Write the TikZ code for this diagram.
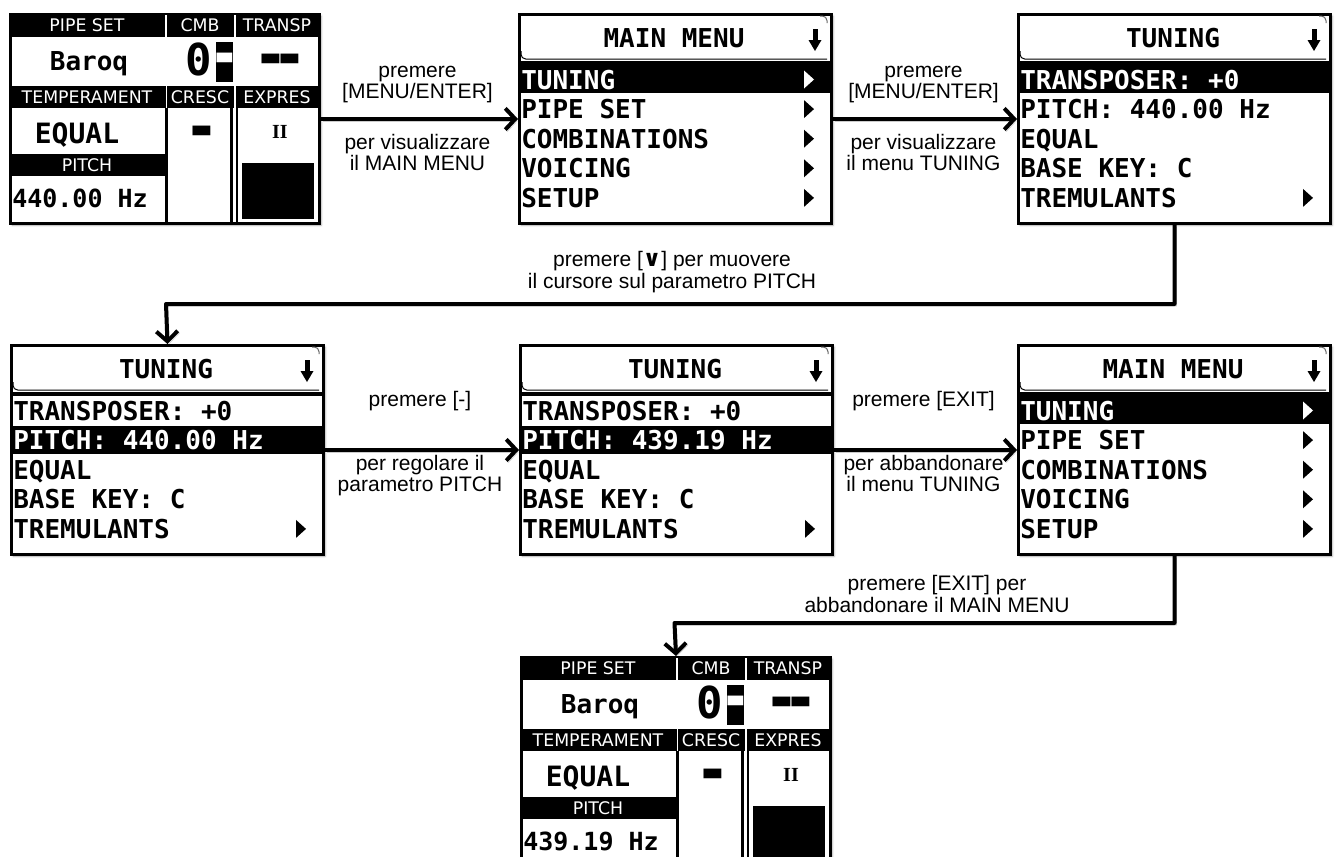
\documentclass[tikz,border=0pt]{standalone}
\usepackage{fontspec}
\setmainfont{Liberation Sans}
\newfontfamily\lcdmono{DejaVu Sans Mono}
\newfontfamily\lcdsans{DejaVu Sans}
\newfontfamily\lcdserif{Liberation Serif}
\usetikzlibrary{arrows.meta,shadows.blur}

\tikzset{
  lcdbox/.style={draw, line width=2.25pt, fill=white, anchor=north west, inner sep=0pt,
    blur shadow={shadow xshift=1.2pt, shadow yshift=-1.2pt, shadow blur radius=1.6pt, shadow opacity=35}},
  menubox/.style={lcdbox, minimum width=234pt, minimum height=156.75pt},
  dispbox/.style={lcdbox, minimum width=231.75pt, minimum height=156.75pt},
  mtext/.style={font=\lcdmono\bfseries\fontsize{19.5pt}{20pt}\selectfont, inner sep=0pt},
  wlab/.style={font=\lcdsans\fontsize{13pt}{14pt}\selectfont, text=white, inner sep=0pt, anchor=base},
  bigtext/.style={font=\lcdmono\bfseries\fontsize{#1}{#1}\selectfont, inner sep=0pt, anchor=base},
  lbl/.style={font=\fontsize{15.75pt}{18pt}\selectfont, inner sep=0pt, anchor=base},
  conn/.style={line width=3pt, line join=round, -{Straight Barb[length=7.5pt,width=16pt]},
    preaction={draw=black!45, opacity=0.45, transform canvas={shift={(1.5pt,-1.5pt)}}}},
}

% header of a menu screen: #1 node, #2 title
\newcommand\menuhead[2]{%
  \begin{scope}[shift={(#1.north west)}]
    \draw[line width=0.75pt, rounded corners=3.5pt] (3,38) -- (3,46) -- (309,46);
    \draw[line width=0.75pt, black!60, rounded corners=3.5pt] (302,3) -- (309,3) -- (309,10);
    \fill (0,47.5) rectangle (312,51.5);
    \node[mtext, anchor=base] (#1title) at (156,34.5) {#2};
    \fill (294.5,16) rectangle (299.5,28);
    \fill (290.5,27) -- (303.5,27) -- (297,38) -- cycle;
  \end{scope}}

% one row of a menu: #1 node, #2 index, #3 text, #4 h = highlighted, #5 a = arrow
\newcommand\menurow[5]{%
  \begin{scope}[shift={(#1.north west)}]
    \pgfmathsetmacro\rc{66.5+29.6*#2}%
    \pgfmathsetmacro\rb{\rc+9.5}%
    \ifx h#4\relax
      \fill (0,\rc-14.5) rectangle (312,\rc+13.5);
      \def\tc{white}%
    \else
      \def\tc{black}%
    \fi
    \node[mtext, text=\tc, anchor=base west] (#1r#2) at (3,\rb) {#3};
    \ifx a#5\relax
      \fill[\tc] (286,\rc-9) -- (296,\rc) -- (286,\rc+9) -- cycle;
    \fi
  \end{scope}}

% main display: #1 node, #2 pitch value
\newcommand\lcddisp[2]{%
  \begin{scope}[shift={(#1.north west)}]
    \fill (0,0) rectangle (309,24);
    \fill (0,73) rectangle (309,95);
    \fill (0,141) rectangle (157,163);
    \draw[white, line width=1pt] (157,2) -- (157,24) (226,2) -- (226,24)
                                 (157.5,73) -- (157.5,95) (226,73) -- (226,95);
    \draw[line width=1.6pt] (157.5,95) -- (157.5,209) (222.5,95) -- (222.5,209) (228,95) -- (228,209);
    \fill (233,150) rectangle (305,206);
    \node[wlab] (#1h1) at (78,18.5) {PIPE SET};
    \node[wlab] (#1h2) at (191,18.5) {CMB};
    \node[wlab] (#1h3) at (268,18.5) {TRANSP};
    \node[wlab] (#1h4) at (78,90.5) {TEMPERAMENT};
    \node[wlab] (#1h5) at (191,90.5) {CRESC};
    \node[wlab] (#1h6) at (268,90.5) {EXPRES};
    \node[wlab] (#1h7) at (78,158.5) {PITCH};
    \node[bigtext=19.5pt] (#1v1) at (80,57) {Baroq};
    \node[bigtext=33pt] (#1v2) at (189.5,62) {0};
    \fill (207,29) rectangle (224,69);
    \node[bigtext=25.5pt, text=white] (#1v3) at (215.5,64.5) {\scalebox{1.5}[2]{-}};
    \node[bigtext=25.5pt] (#1v4) at (271,65) {\scalebox{1.7}[2]{-\kern-0.27em-}};
    \node[bigtext=21pt] (#1v5) at (68,130) {EQUAL};
    \node[bigtext=25.5pt] (#1v6) at (193,137.5) {\scalebox{1.7}[2]{-}};
    \node[font=\lcdserif\bfseries\fontsize{15pt}{15pt}\selectfont, inner sep=0pt, anchor=base] (#1v7) at (271,125) {II};
    \node[bigtext=18.75pt, anchor=base west] (#1v8) at (3,194) {#2};
  \end{scope}}

\begin{document}
\begin{tikzpicture}[x=0.75pt, y=-0.75pt]
\useasboundingbox (0,0) rectangle (1336,857);

% screens
\node[dispbox] (d1) at (9,13) {};
\node[menubox] (m1) at (518,13) {};
\node[menubox] (t1) at (1017,13) {};
\node[menubox] (t2) at (10,344) {};
\node[menubox] (t3) at (519,344) {};
\node[menubox] (m2) at (1017,344) {};
\node[dispbox] (d2) at (520,656) {};

\lcddisp{d1}{440.00 Hz}
\lcddisp{d2}{439.19 Hz}

\menuhead{m1}{MAIN MENU}
\menurow{m1}{0}{TUNING}{h}{a}
\menurow{m1}{1}{PIPE SET}{n}{a}
\menurow{m1}{2}{COMBINATIONS}{n}{a}
\menurow{m1}{3}{VOICING}{n}{a}
\menurow{m1}{4}{SETUP}{n}{a}

\menuhead{t1}{TUNING}
\menurow{t1}{0}{TRANSPOSER: +0}{h}{n}
\menurow{t1}{1}{PITCH: 440.00 Hz}{n}{n}
\menurow{t1}{2}{EQUAL}{n}{n}
\menurow{t1}{3}{BASE KEY: C}{n}{n}
\menurow{t1}{4}{TREMULANTS}{n}{a}

\menuhead{t2}{TUNING}
\menurow{t2}{0}{TRANSPOSER: +0}{n}{n}
\menurow{t2}{1}{PITCH: 440.00 Hz}{h}{n}
\menurow{t2}{2}{EQUAL}{n}{n}
\menurow{t2}{3}{BASE KEY: C}{n}{n}
\menurow{t2}{4}{TREMULANTS}{n}{a}

\menuhead{t3}{TUNING}
\menurow{t3}{0}{TRANSPOSER: +0}{n}{n}
\menurow{t3}{1}{PITCH: 439.19 Hz}{h}{n}
\menurow{t3}{2}{EQUAL}{n}{n}
\menurow{t3}{3}{BASE KEY: C}{n}{n}
\menurow{t3}{4}{TREMULANTS}{n}{a}

\menuhead{m2}{MAIN MENU}
\menurow{m2}{0}{TUNING}{h}{a}
\menurow{m2}{1}{PIPE SET}{n}{a}
\menurow{m2}{2}{COMBINATIONS}{n}{a}
\menurow{m2}{3}{VOICING}{n}{a}
\menurow{m2}{4}{SETUP}{n}{a}

% connectors
\coordinate (k1) at (166,304);
\coordinate (k2) at (674.5,623);
\draw[conn] (d1.east) -- (m1.west);
\draw[conn] (m1.east) -- (t1.west);
\draw[conn] (t1.south) |- (k1) -- (t2.north);
\draw[conn] (t2.east) -- (t3.west);
\draw[conn] (t3.east) -- (m2.west);
\draw[conn] (m2.south) |- (k2) -- (d2.north);

% labels
\node[lbl] (l1a) at (417.5,77) {premere};
\node[lbl] (l1b) at (417.5,98) {[MENU/ENTER]};
\node[lbl] (l1c) at (417.5,149) {per visualizzare};
\node[lbl] (l1d) at (417.5,170) {il MAIN MENU};

\node[lbl] (l2a) at (923.5,77) {premere};
\node[lbl] (l2b) at (923.5,98) {[MENU/ENTER]};
\node[lbl] (l2c) at (923.5,149) {per visualizzare};
\node[lbl] (l2d) at (923.5,170) {il menu TUNING};

\node[lbl] (l3a) at (672,266) {premere [{\lcdsans\bfseries\fontsize{17pt}{17pt}\selectfont ∨}] per muovere};
\node[lbl] (l3b) at (672,288) {il cursore sul parametro PITCH};

\node[lbl] (l4a) at (420,406) {premere [-]};
\node[lbl] (l4b) at (420,470) {per regolare il};
\node[lbl] (l4c) at (420,491) {parametro PITCH};

\node[lbl] (l5a) at (923.5,406) {premere [EXIT]};
\node[lbl] (l5b) at (923.5,470) {per abbandonare};
\node[lbl] (l5c) at (923.5,491) {il menu TUNING};

\node[lbl] (l6a) at (937,590) {premere [EXIT] per};
\node[lbl] (l6b) at (937,612) {abbandonare il MAIN MENU};
\end{tikzpicture}
\end{document}
